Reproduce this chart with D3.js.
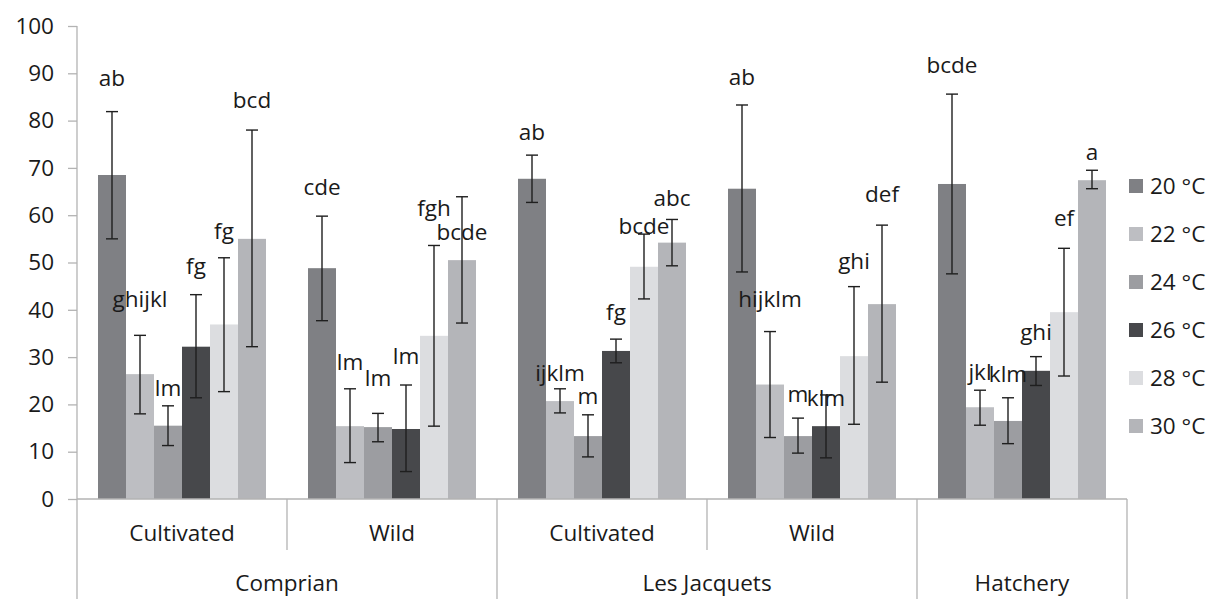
<!DOCTYPE html>
<html>
<head>
<meta charset="utf-8">
<script src="https://cdn.jsdelivr.net/npm/d3@7"></script>
<style>
  html, body { margin: 0; padding: 0; background: #fff; }
  svg { display: block; }
  text { font-family: "Open Sans", sans-serif; fill: #1a1a1a; }
</style>
</head>
<body>
<svg id="chart" width="1211" height="599"></svg>
<script>
// ---- data ----
const series = ["20 °C", "22 °C", "24 °C", "26 °C", "28 °C", "30 °C"];
const groups = ["Comprian|Cultivated", "Comprian|Wild", "Les Jacquets|Cultivated", "Les Jacquets|Wild", "Hatchery|"];
const sites = ["Comprian", "Les Jacquets", "Hatchery"];
const siteSpans = [2, 2, 1];
const subLabels = ["Cultivated", "Wild", "Cultivated", "Wild", ""];
const yTicks = [0, 10, 20, 30, 40, 50, 60, 70, 80, 90, 100];

// mean values per group (rows) and temperature (columns)
const means = [
  [68.5, 26.4, 15.5, 32.2, 36.9, 55.0],
  [48.8, 15.4, 15.2, 14.8, 34.5, 50.5],
  [67.7, 20.7, 13.3, 31.3, 49.1, 54.2],
  [65.6, 24.2, 13.3, 15.4, 30.2, 41.2],
  [66.6, 19.4, 16.5, 27.1, 39.5, 67.4]
];
const errHigh = [
  [81.9, 34.6, 19.7, 43.2, 51.0, 78.0],
  [59.8, 23.3, 18.1, 24.1, 53.6, 63.9],
  [72.7, 23.3, 17.8, 33.8, 56.0, 59.1],
  [83.3, 35.4, 17.1, 22.0, 44.9, 57.9],
  [85.6, 23.0, 21.4, 30.1, 53.0, 69.5]
];
const errLow = [
  [55.0, 18.0, 11.3, 21.4, 22.7, 32.2],
  [37.7, 7.7, 12.1, 5.8, 15.4, 37.2],
  [62.7, 18.2, 8.9, 28.8, 42.3, 49.3],
  [48.0, 13.0, 9.7, 8.7, 15.8, 24.7],
  [47.6, 15.6, 11.7, 24.0, 26.0, 65.6]
];
const letters = [
  ["ab", "ghijkl", "lm", "fg", "fg", "bcd"],
  ["cde", "lm", "lm", "lm", "fgh", "bcde"],
  ["ab", "ijklm", "m", "fg", "bcde", "abc"],
  ["ab", "hijklm", "m", "klm", "ghi", "def"],
  ["bcde", "jkl", "klm", "ghi", "ef", "a"]
];
// value (y units) at which each letter annotation sits
const letterAt = [
  [88.8, 42.1, 23.3, 49.1, 56.5, 84.0],
  [65.7, 28.8, 25.4, 29.9, 61.2, 56.2],
  [77.3, 26.4, 21.6, 39.3, 57.4, 63.3],
  [88.9, 42.1, 22.0, 21.1, 50.0, 64.3],
  [91.4, 26.6, 26.2, 35.0, 59.2, 73.2]
];

const colors = ["#7f8084", "#bdbec2", "#9c9da1", "#47484b", "#dcdde0", "#b4b5b9"];

// ---- layout ----
const svg = d3.select("#chart");
const padL = 77, padR = 1127, padT = 26, baseY = 499;

const x0 = d3.scaleBand().domain(groups).range([padL, padR]).paddingInner(0).paddingOuter(0);
const x1 = d3.scaleBand().domain(series).range([0, x0.bandwidth()]).paddingInner(0).paddingOuter(0.75);
const y = d3.scaleLinear().domain([0, 100]).range([baseY, padT]);
const color = d3.scaleOrdinal().domain(series).range(colors);

const FS = 22.5;

// y axis
const yAxis = d3.axisLeft(y).tickValues(yTicks).tickSize(9).tickPadding(14);
const gy = svg.append("g").attr("transform", `translate(${padL},0)`).call(yAxis);
gy.select(".domain").remove();
gy.selectAll(".tick line").attr("stroke", "#b3b3b3").attr("stroke-width", 1.3);
gy.selectAll(".tick text").style("font-size", FS + "px").style("font-family", '"Open Sans", sans-serif').attr("fill", "#1a1a1a");
svg.append("line").attr("x1", padL).attr("x2", padL).attr("y1", padT).attr("y2", 599)
  .attr("stroke", "#b3b3b3").attr("stroke-width", 1.3);

// bars
const flat = [];
groups.forEach((g, gi) => series.forEach((s, si) => flat.push({
  g, s, gi, si, v: means[gi][si], hi: errHigh[gi][si], lo: errLow[gi][si],
  t: letters[gi][si], ty: letterAt[gi][si]
})));

svg.append("g").selectAll("rect").data(flat).join("rect")
  .attr("x", d => x0(d.g) + x1(d.s))
  .attr("width", x1.bandwidth())
  .attr("y", d => y(d.v))
  .attr("height", d => y(0) - y(d.v))
  .attr("fill", d => color(d.s));

// error bars
const eb = svg.append("g").attr("stroke", "#1f1f1f").attr("stroke-width", 1.4);
flat.forEach(d => {
  const cx = x0(d.g) + x1(d.s) + x1.bandwidth() / 2;
  eb.append("line").attr("x1", cx).attr("x2", cx).attr("y1", y(d.hi)).attr("y2", y(d.lo));
  eb.append("line").attr("x1", cx - 6).attr("x2", cx + 6).attr("y1", y(d.hi)).attr("y2", y(d.hi));
  eb.append("line").attr("x1", cx - 6).attr("x2", cx + 6).attr("y1", y(d.lo)).attr("y2", y(d.lo));
});

// letters
svg.append("g").selectAll("text").data(flat).join("text")
  .attr("x", d => x0(d.g) + x1(d.s) + x1.bandwidth() / 2)
  .attr("y", d => y(d.ty))
  .attr("dy", "0.3em")
  .attr("text-anchor", "middle")
  .style("font-size", FS + "px")
  .text(d => d.t);

// x axis baseline
svg.append("line").attr("x1", padL).attr("x2", padR).attr("y1", baseY).attr("y2", baseY)
  .attr("stroke", "#b3b3b3").attr("stroke-width", 1.3);

// sub-category labels
groups.forEach((g, gi) => {
  const cx = x0(g) + x0.bandwidth() / 2;
  svg.append("text").attr("x", cx).attr("y", 533).attr("dy", "0.35em")
    .attr("text-anchor", "middle").style("font-size", FS + "px").text(subLabels[gi]);
});
// dividers: full height at site boundaries, short within a site
let idx = 0;
const boundaries = new Set([0]);
siteSpans.forEach(n => { idx += n; boundaries.add(idx); });
for (let i = 1; i <= groups.length; i++) {
  const xx = i < groups.length ? x0(groups[i]) : padR;
  svg.append("line").attr("x1", xx).attr("x2", xx).attr("y1", baseY)
    .attr("y2", boundaries.has(i) ? 599 : 550)
    .attr("stroke", "#b3b3b3").attr("stroke-width", 1.3);
}
// site labels
let startIdx = 0;
sites.forEach((s, i) => {
  const a = x0(groups[startIdx]);
  const endIdx = startIdx + siteSpans[i];
  const b = endIdx < groups.length ? x0(groups[endIdx]) : padR;
  svg.append("text").attr("x", (a + b) / 2).attr("y", 583).attr("dy", "0.35em")
    .attr("text-anchor", "middle").style("font-size", FS + "px").text(s);
  startIdx = endIdx;
});

// legend
const lg = svg.append("g");
series.forEach((s, i) => {
  const cy = 186 + i * 48;
  lg.append("rect").attr("x", 1129).attr("y", cy - 7).attr("width", 14).attr("height", 14).attr("fill", color(s));
  lg.append("text").attr("x", 1150).attr("y", cy).attr("dy", "0.35em").style("font-size", FS + "px").text(s);
});
</script>
</body>
</html>
